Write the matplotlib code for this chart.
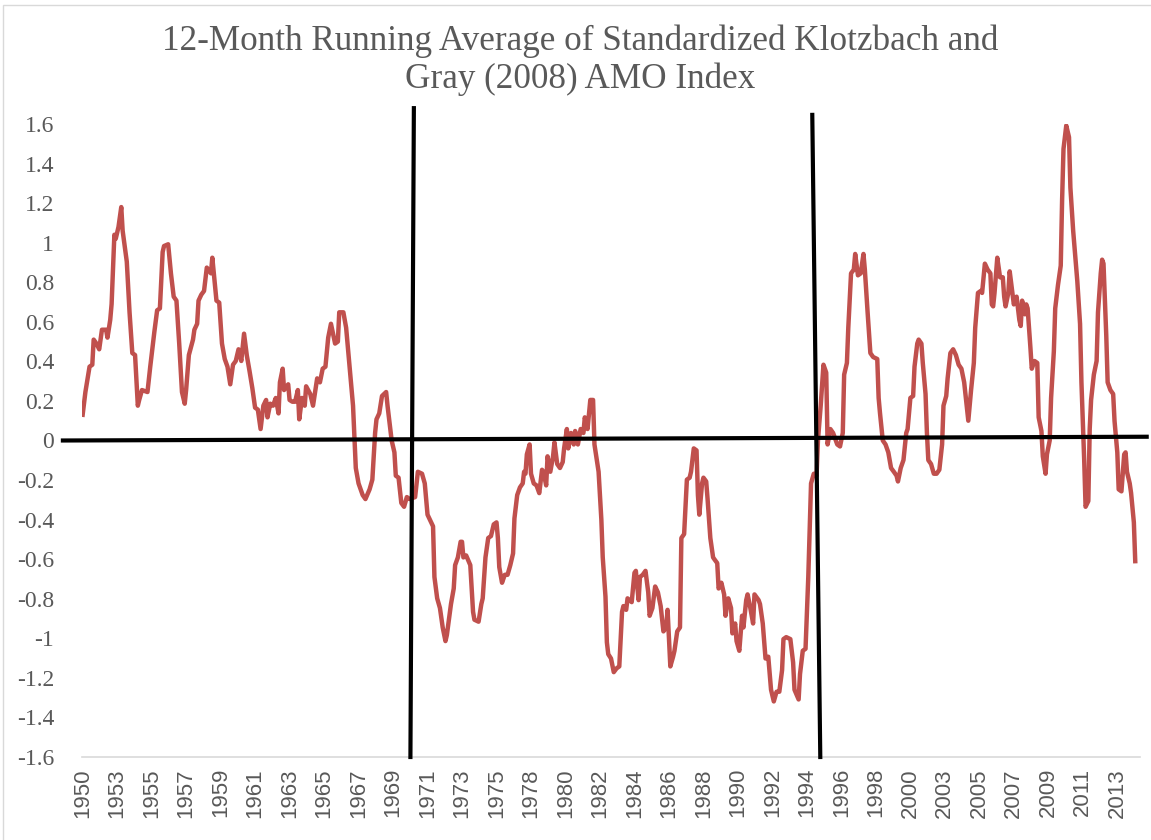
import matplotlib
matplotlib.use("Agg")
import matplotlib.pyplot as plt
from matplotlib.patches import Rectangle

# month index counted from Dec 1950 (first 12-month running average)
month_idx = [
    0, 2, 5, 7, 8, 10, 12, 14, 17, 18, 20, 21, 23, 24, 26, 28, 29, 32, 34, 36,
    38, 40, 41, 43, 47, 49, 51, 52, 54, 56, 58, 59, 62, 64, 66, 68, 70, 72, 74, 75,
    77, 80, 81, 83, 84, 86, 88, 90, 93, 94, 97, 99, 101, 103, 105, 107, 109, 111, 113, 115,
    117, 119, 121, 123, 125, 127, 129, 131, 133, 134, 136, 138, 140, 142, 143, 145, 146, 149, 150, 152,
    154, 156, 157, 159, 161, 162, 165, 167, 170, 172, 174, 176, 178, 180, 183, 185, 186, 189, 191, 194,
    196, 198, 200, 203, 205, 208, 210, 212, 213, 215, 217, 220, 221, 224, 226, 227, 229, 231, 233, 235,
    237, 241, 243, 246, 248, 250, 254, 255, 257, 259, 261, 263, 264, 267, 269, 270, 272, 274, 275, 276,
    278, 281, 283, 284, 287, 289, 290, 292, 294, 296, 298, 300, 301, 302, 304, 306, 308, 310, 312, 313,
    315, 317, 319, 320, 321, 322, 324, 325, 327, 329, 331, 333, 334, 336, 337, 339, 341, 342, 344, 346,
    348, 349, 351, 352, 354, 356, 357, 359, 361, 363, 364, 366, 368, 370, 371, 374, 376, 377, 379, 380,
    381, 383, 385, 387, 389, 391, 392, 394, 395, 398, 400, 401, 403, 404, 406, 408, 410, 411, 413, 415,
    417, 419, 421, 423, 424, 426, 428, 429, 431, 433, 434, 436, 438, 440, 441, 443, 445, 446, 447, 449,
    450, 452, 453, 455, 457, 458, 460, 461, 463, 465, 466, 468, 470, 471, 473, 474, 476, 478, 479, 481,
    482, 484, 486, 487, 490, 491, 493, 495, 497, 499, 501, 503, 505, 507, 508, 510, 513, 515, 516, 519,
    520, 522, 524, 526, 528, 530, 532, 533, 535, 537, 539, 540, 542, 544, 547, 549, 551, 552, 554, 555,
    557, 559, 560, 562, 564, 566, 567, 569, 571, 573, 576, 577, 578, 580, 582, 584, 586, 588, 590, 591,
    593, 595, 597, 598, 600, 602, 603, 605, 606, 608, 609, 611, 612, 613, 615, 617, 619, 621, 623, 624,
    626, 627, 629, 631, 633, 635, 637, 639, 642, 644, 646, 647, 649, 651, 652, 654, 656, 658, 659, 660,
    661, 663, 665, 667, 668, 669, 671, 672, 674, 675, 677, 679, 680, 681, 683, 684, 685, 687, 688, 690,
    692, 693, 695, 696, 698, 699, 701, 702, 704, 705, 707, 709, 710, 711, 713, 715, 716, 718, 721, 723,
    724, 726, 727, 729, 730, 731, 733, 735, 736, 738, 739, 740, 742, 743, 745, 747, 748, 750, 751, 753,
    755, 756, 757, 759, 760, 762, 763,
]

amo = [
    0.13, 0.245, 0.373, 0.383, 0.51, 0.49, 0.461, 0.56, 0.56, 0.52, 0.61, 0.69, 1.04, 1.02, 1.08, 1.18, 1.06, 0.904, 0.648, 0.442,
    0.432, 0.176, 0.205, 0.255, 0.245, 0.373, 0.49, 0.55, 0.658, 0.668, 0.953, 0.983, 0.992, 0.845, 0.727, 0.707, 0.49, 0.245, 0.186, 0.255,
    0.432, 0.51, 0.56, 0.59, 0.707, 0.737, 0.756, 0.874, 0.845, 0.924, 0.707, 0.697, 0.49, 0.412, 0.373, 0.284, 0.383, 0.402, 0.461, 0.402,
    0.54, 0.43, 0.35, 0.265, 0.166, 0.156, 0.058, 0.176, 0.205, 0.117, 0.186, 0.176, 0.215, 0.137, 0.294, 0.363, 0.255, 0.284, 0.205, 0.196,
    0.196, 0.255, 0.107, 0.215, 0.176, 0.274, 0.235, 0.176, 0.314, 0.294, 0.363, 0.373, 0.52, 0.59, 0.49, 0.5, 0.648, 0.648, 0.57, 0.333,
    0.176, -0.139, -0.217, -0.276, -0.296, -0.247, -0.198, 0.038, 0.107, 0.137, 0.225, 0.245, 0.176, 0.0, -0.06, -0.178, -0.188, -0.316, -0.335, -0.286,
    -0.296, -0.286, -0.158, -0.168, -0.217, -0.375, -0.434, -0.69, -0.798, -0.847, -0.945, -1.014, -0.984, -0.827, -0.748, -0.63, -0.591, -0.512, -0.512, -0.591,
    -0.581, -0.63, -0.866, -0.906, -0.916, -0.827, -0.798, -0.591, -0.493, -0.483, -0.424, -0.414, -0.493, -0.64, -0.719, -0.679, -0.679, -0.63, -0.571, -0.394,
    -0.276, -0.237, -0.217, -0.158, -0.168, -0.07, -0.02, -0.168, -0.217, -0.227, -0.266, -0.148, -0.158, -0.227, -0.08, -0.158, -0.08, -0.01, -0.119, -0.139,
    -0.109, -0.04, 0.058, -0.04, 0.038, -0.02, 0.048, -0.02, 0.058, 0.038, 0.117, 0.058, 0.205, 0.205, -0.02, -0.158, -0.40, -0.59, -0.79, -1.02,
    -1.08, -1.102, -1.171, -1.152, -1.142, -0.866, -0.837, -0.856, -0.798, -0.817, -0.669, -0.659, -0.807, -0.69, -0.679, -0.659, -0.768, -0.886, -0.847, -0.738,
    -0.768, -0.837, -0.965, -0.945, -0.856, -1.142, -1.093, -1.063, -0.965, -0.945, -0.493, -0.473, -0.198, -0.188, -0.158, -0.04, -0.05, -0.276, -0.375, -0.217,
    -0.188, -0.207, -0.296, -0.493, -0.591, -0.601, -0.62, -0.748, -0.719, -0.778, -0.886, -0.798, -0.847, -0.975, -0.925, -1.014, -1.063, -0.886, -0.945, -0.807,
    -0.778, -0.847, -0.925, -0.778, -0.807, -0.827, -0.925, -1.102, -1.093, -1.26, -1.319, -1.27, -1.27, -1.161, -1.004, -0.994, -1.004, -1.122, -1.26, -1.309,
    -1.181, -1.063, -1.053, -0.69, -0.217, -0.168, -0.178, 0.0, 0.176, 0.383, 0.343, -0.02, 0.058, 0.038, -0.02, -0.03, 0.038, 0.333, 0.392, 0.57,
    0.845, 0.864, 0.943, 0.835, 0.845, 0.943, 0.864, 0.648, 0.442, 0.422, 0.412, 0.215, 0.137, 0.0, -0.02, -0.06, -0.139, -0.158, -0.178, -0.207,
    -0.139, -0.099, 0.038, 0.058, 0.215, 0.225, 0.373, 0.49, 0.51, 0.49, 0.392, 0.235, 0.038, -0.099, -0.119, -0.168, -0.168, -0.148, -0.02, 0.176,
    0.225, 0.314, 0.442, 0.461, 0.432, 0.383, 0.363, 0.294, 0.10, 0.255, 0.392, 0.57, 0.746, 0.756, 0.746, 0.894, 0.864, 0.845, 0.688, 0.678,
    0.746, 0.924, 0.825, 0.825, 0.727, 0.678, 0.746, 0.855, 0.746, 0.688, 0.727, 0.609, 0.579, 0.707, 0.638, 0.688, 0.668, 0.471, 0.363, 0.402,
    0.392, 0.117, 0.048, -0.08, -0.168, -0.07, 0.0, 0.215, 0.451, 0.668, 0.786, 0.884, 1.219, 1.474, 1.592, 1.533, 1.278, 1.061, 0.806, 0.589,
    0.294, -0.099, -0.335, -0.306, 0.058, 0.205, 0.333, 0.402, 0.648, 0.845, 0.914, 0.894, 0.53, 0.294, 0.255, 0.235, 0.098, -0.06, -0.247, -0.257,
    -0.07, -0.06, -0.158, -0.217, -0.266, -0.414, -0.61,
]

# category labels shown every 25 months
tick_years = ["1950", "1953", "1955", "1957", "1959", "1961", "1963", "1965", "1967", "1969",
              "1971", "1973", "1975", "1978", "1980", "1982", "1984", "1986", "1988", "1990",
              "1992", "1994", "1996", "1998", "2000", "2003", "2005", "2007", "2009", "2011", "2013"]
y_ticks = [1.6, 1.4, 1.2, 1, 0.8, 0.6, 0.4, 0.2, 0, -0.2, -0.4, -0.6, -0.8, -1, -1.2, -1.4, -1.6]

# hand drawn marker lines (month index, value)
zero_line = ([-14.3, 771.3], [0.0, 0.019])
shift_1970 = ([240.1, 237.6], [1.68, -1.6])
shift_1995 = ([528.9, 534.7], [1.646, -1.6])

fig = plt.figure(figsize=(11.51, 8.4), dpi=100)
ax = fig.add_axes([0.0712, 0.0988, 0.9193, 0.7536])

ax.plot(month_idx, amo, color="#C0504D", lw=3.2, solid_joinstyle="round", zorder=2)

for xs, ys in (zero_line, shift_1970, shift_1995):
    ax.plot(xs, ys, color="black", lw=3.0, clip_on=False, zorder=3)

ax.set_xlim(-0.5, 766.5)
ax.set_ylim(-1.6, 1.6)
ax.set_xticks([i * 25 for i in range(len(tick_years))])
ax.set_xticklabels(tick_years, rotation=90, fontsize=16, color="#595959",
                   family="Liberation Sans")
ax.set_yticks(y_ticks)
ax.set_yticklabels(["%g" % v for v in y_ticks], fontsize=17, color="#595959",
                   family="Liberation Serif")
ax.tick_params(axis="both", length=0)
ax.tick_params(axis="y", pad=20)
ax.tick_params(axis="x", pad=8)

for s in ("top", "right", "left"):
    ax.spines[s].set_visible(False)
ax.spines["bottom"].set_color("#D9D9D9")
ax.spines["bottom"].set_linewidth(1.2)

fig.text(0.504, 0.951, "12-Month Running Average of Standardized Klotzbach and",
         ha="center", va="center", fontsize=25.3, color="#595959", family="Liberation Serif")
fig.text(0.504, 0.906, "Gray (2008) AMO Index",
         ha="center", va="center", fontsize=25.3, color="#595959", family="Liberation Serif")

fig.patches.append(Rectangle((0.0026, -0.05), 1.2, 1.044, transform=fig.transFigure,
                             fill=False, edgecolor="#D9D9D9", lw=1.0))

fig.savefig("out.png", dpi=100)
